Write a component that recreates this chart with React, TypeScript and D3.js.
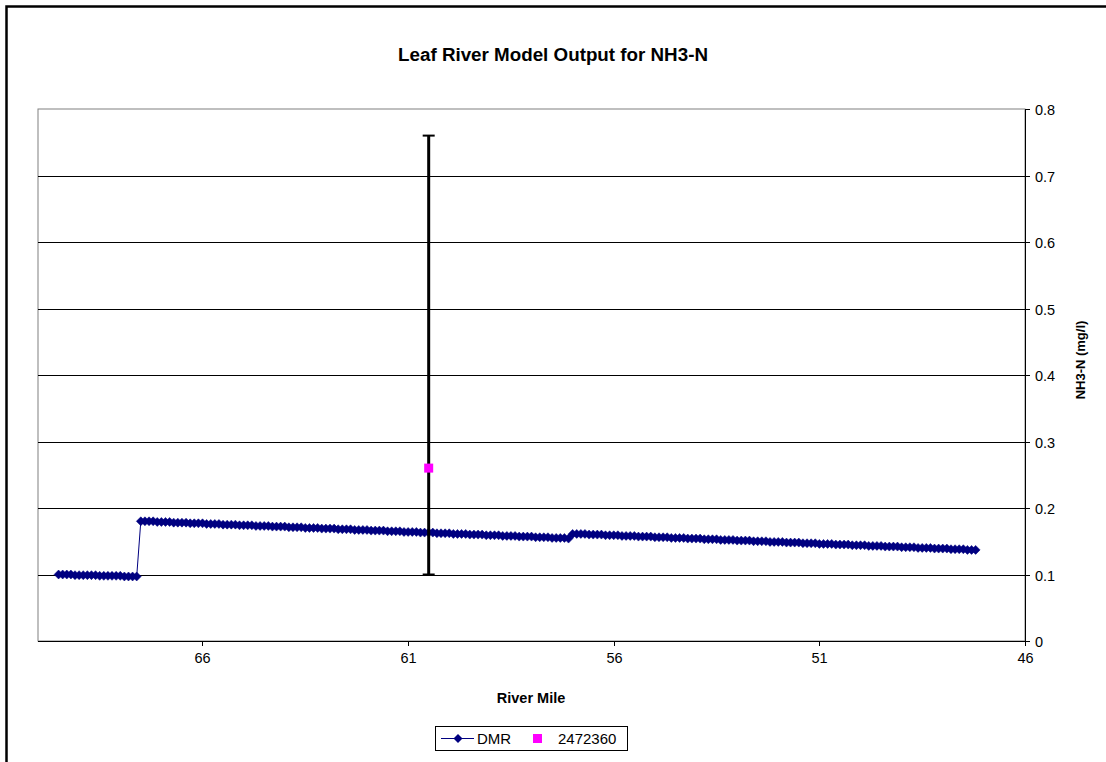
import React from 'react';
import { scaleLinear, line } from 'd3';

// DMR model output along the river (river mile -> NH3-N mg/l)
const riverMiles = [
	69.5, 69.4, 69.3, 69.2, 69.1, 69.0, 68.9, 68.8, 68.7, 68.6,
	68.5, 68.4, 68.3, 68.2, 68.1, 68.0, 67.9, 67.8, 67.7, 67.6,
	67.5, 67.4, 67.3, 67.2, 67.1, 67.0, 66.9, 66.8, 66.7, 66.6,
	66.5, 66.4, 66.3, 66.2, 66.1, 66.0, 65.9, 65.8, 65.7, 65.6,
	65.5, 65.4, 65.3, 65.2, 65.1, 65.0, 64.9, 64.8, 64.7, 64.6,
	64.5, 64.4, 64.3, 64.2, 64.1, 64.0, 63.9, 63.8, 63.7, 63.6,
	63.5, 63.4, 63.3, 63.2, 63.1, 63.0, 62.9, 62.8, 62.7, 62.6,
	62.5, 62.4, 62.3, 62.2, 62.1, 62.0, 61.9, 61.8, 61.7, 61.6,
	61.5, 61.4, 61.3, 61.2, 61.1, 61.0, 60.9, 60.8, 60.7, 60.6,
	60.5, 60.4, 60.3, 60.2, 60.1, 60.0, 59.9, 59.8, 59.7, 59.6,
	59.5, 59.4, 59.3, 59.2, 59.1, 59.0, 58.9, 58.8, 58.7, 58.6,
	58.5, 58.4, 58.3, 58.2, 58.1, 58.0, 57.9, 57.8, 57.7, 57.6,
	57.5, 57.4, 57.3, 57.2, 57.1, 57.0, 56.9, 56.8, 56.7, 56.6,
	56.5, 56.4, 56.3, 56.2, 56.1, 56.0, 55.9, 55.8, 55.7, 55.6,
	55.5, 55.4, 55.3, 55.2, 55.1, 55.0, 54.9, 54.8, 54.7, 54.6,
	54.5, 54.4, 54.3, 54.2, 54.1, 54.0, 53.9, 53.8, 53.7, 53.6,
	53.5, 53.4, 53.3, 53.2, 53.1, 53.0, 52.9, 52.8, 52.7, 52.6,
	52.5, 52.4, 52.3, 52.2, 52.1, 52.0, 51.9, 51.8, 51.7, 51.6,
	51.5, 51.4, 51.3, 51.2, 51.1, 51.0, 50.9, 50.8, 50.7, 50.6,
	50.5, 50.4, 50.3, 50.2, 50.1, 50.0, 49.9, 49.8, 49.7, 49.6,
	49.5, 49.4, 49.3, 49.2, 49.1, 49.0, 48.9, 48.8, 48.7, 48.6,
	48.5, 48.4, 48.3, 48.2, 48.1, 48.0, 47.9, 47.8, 47.7, 47.6,
	47.5, 47.4, 47.3, 47.2,
];

const dmrValues = [
	0.100, 0.100, 0.100, 0.100, 0.099, 0.099, 0.099, 0.099, 0.099, 0.099,
	0.098, 0.098, 0.098, 0.098, 0.098, 0.098, 0.097, 0.097, 0.097, 0.097,
	0.180, 0.180, 0.180, 0.180, 0.179, 0.179, 0.179, 0.179, 0.178, 0.178,
	0.178, 0.178, 0.177, 0.177, 0.177, 0.177, 0.176, 0.176, 0.176, 0.176,
	0.175, 0.175, 0.175, 0.175, 0.174, 0.174, 0.174, 0.174, 0.173, 0.173,
	0.173, 0.173, 0.172, 0.172, 0.172, 0.172, 0.171, 0.171, 0.171, 0.171,
	0.170, 0.170, 0.170, 0.170, 0.169, 0.169, 0.169, 0.169, 0.168, 0.168,
	0.168, 0.168, 0.167, 0.167, 0.167, 0.167, 0.166, 0.166, 0.166, 0.166,
	0.165, 0.165, 0.165, 0.165, 0.164, 0.164, 0.164, 0.164, 0.163, 0.163,
	0.163, 0.163, 0.162, 0.162, 0.162, 0.162, 0.161, 0.161, 0.161, 0.161,
	0.160, 0.160, 0.160, 0.160, 0.159, 0.159, 0.159, 0.159, 0.158, 0.158,
	0.158, 0.158, 0.157, 0.157, 0.157, 0.157, 0.156, 0.156, 0.156, 0.156,
	0.155, 0.155, 0.155, 0.155, 0.154, 0.161, 0.161, 0.161, 0.161, 0.160,
	0.160, 0.160, 0.160, 0.159, 0.159, 0.159, 0.159, 0.158, 0.158, 0.158,
	0.158, 0.157, 0.157, 0.157, 0.157, 0.156, 0.156, 0.156, 0.156, 0.155,
	0.155, 0.155, 0.155, 0.154, 0.154, 0.154, 0.154, 0.153, 0.153, 0.153,
	0.153, 0.152, 0.152, 0.152, 0.152, 0.151, 0.151, 0.151, 0.151, 0.150,
	0.150, 0.150, 0.150, 0.149, 0.149, 0.149, 0.149, 0.148, 0.148, 0.148,
	0.148, 0.147, 0.147, 0.147, 0.147, 0.146, 0.146, 0.146, 0.146, 0.145,
	0.145, 0.145, 0.145, 0.144, 0.144, 0.144, 0.144, 0.143, 0.143, 0.143,
	0.143, 0.142, 0.142, 0.142, 0.142, 0.141, 0.141, 0.141, 0.141, 0.140,
	0.140, 0.140, 0.140, 0.139, 0.139, 0.139, 0.139, 0.138, 0.138, 0.138,
	0.138, 0.137, 0.137, 0.137,
];

// station 2472360 observation with its min/max range
const stationMiles = [60.5];
const stationValues = [0.26];
const stationMin = [0.1];
const stationMax = [0.76];

const xTicks = [66, 61, 56, 51, 46];
const yTicks = [0, 0.1, 0.2, 0.3, 0.4, 0.5, 0.6, 0.7, 0.8];
const yTickLabels = ['0', '0.1', '0.2', '0.3', '0.4', '0.5', '0.6', '0.7', '0.8'];

const W = 1106;
const H = 762;
const PLOT = { left: 38, right: 1025, top: 109, bottom: 641 };
const FONT = '"Liberation Sans", Arial, sans-serif';
const NAVY = '#000080';
const MAGENTA = '#FF00FF';

const diamond = 'M0,-4.5L4.5,0L0,4.5L-4.5,0Z';

export default function App() {
	const x = scaleLinear().domain([70, 46]).range([PLOT.left, PLOT.right]);
	const y = scaleLinear().domain([0, 0.8]).range([PLOT.bottom, PLOT.top]);

	const pts = riverMiles.map((m, i) => [m, dmrValues[i]] as [number, number]);
	const dmrPath = line<[number, number]>()
		.x((d) => x(d[0]))
		.y((d) => y(d[1]))(pts);

	return (
		<svg
			width={W}
			height={H}
			style={{ position: 'absolute', left: 0, top: 0, background: '#fff' }}
			fontFamily={FONT}
		>
			<rect x={0} y={0} width={W} height={H} fill="#fff" />
			{/* outer chart frame */}
			<path d={`M6.5,${H}V6.5H${W}`} fill="none" stroke="#000" strokeWidth={2.5} />

			<text x={553} y={61} textAnchor="middle" fontSize={18.8} fontWeight="bold">
				Leaf River Model Output for NH3-N
			</text>

			{/* plot area frame */}
			<rect
				x={PLOT.left}
				y={PLOT.top}
				width={PLOT.right - PLOT.left}
				height={PLOT.bottom - PLOT.top}
				fill="#fff"
				stroke="#808080"
				strokeWidth={1}
			/>

			{/* gridlines */}
			{yTicks.slice(1, -1).map((t) => (
				<line
					key={t}
					x1={PLOT.left}
					x2={PLOT.right}
					y1={Math.round(y(t)) + 0.5}
					y2={Math.round(y(t)) + 0.5}
					stroke="#000"
					strokeWidth={1}
				/>
			))}

			{/* right value axis */}
			<line x1={PLOT.right + 0.5} x2={PLOT.right + 0.5} y1={PLOT.top} y2={PLOT.bottom} stroke="#000" />
			{yTicks.map((t, i) => (
				<g key={t} transform={`translate(0,${Math.round(y(t)) + 0.5})`}>
					<line x1={PLOT.right} x2={PLOT.right + 5} stroke="#000" />
					<text x={1035} y={5} fontSize={14.5}>
						{yTickLabels[i]}
					</text>
				</g>
			))}

			{/* bottom category axis */}
			<line x1={PLOT.left} x2={PLOT.right} y1={PLOT.bottom + 0.5} y2={PLOT.bottom + 0.5} stroke="#000" />
			{xTicks.map((t) => (
				<g key={t} transform={`translate(${Math.round(x(t)) + 0.5},0)`}>
					<line y1={PLOT.bottom} y2={PLOT.bottom + 5} stroke="#000" />
					<text y={663} textAnchor="middle" fontSize={14.5}>
						{t}
					</text>
				</g>
			))}

			<text x={531} y={703} textAnchor="middle" fontSize={14.5} fontWeight="bold">
				River Mile
			</text>
			<text
				transform="translate(1085,360) rotate(-90)"
				textAnchor="middle"
				fontSize={13}
				fontWeight="bold"
			>
				NH3-N (mg/l)
			</text>

			{/* DMR series */}
			<path d={dmrPath || ''} fill="none" stroke={NAVY} strokeWidth={1} />
			{pts.map((d, i) => (
				<path
					key={i}
					d={diamond}
					transform={`translate(${x(d[0])},${y(d[1])})`}
					fill={NAVY}
					stroke={NAVY}
					strokeWidth={0.5}
				/>
			))}

			{/* station range + observation */}
			{stationMiles.map((m, i) => {
				const cx = x(m);
				return (
					<g key={m}>
						<line x1={cx} x2={cx} y1={y(stationMin[i])} y2={y(stationMax[i])} stroke="#000" strokeWidth={3} />
						<line x1={cx - 6} x2={cx + 6} y1={y(stationMax[i])} y2={y(stationMax[i])} stroke="#000" strokeWidth={2} />
						<line x1={cx - 6} x2={cx + 6} y1={y(stationMin[i])} y2={y(stationMin[i])} stroke="#000" strokeWidth={2} />
						<rect x={cx - 4.5} y={y(stationValues[i]) - 4.5} width={9} height={9} fill={MAGENTA} />
					</g>
				);
			})}

			{/* legend */}
			<rect x={435.5} y={726.5} width={192} height={24} fill="#fff" stroke="#000" strokeWidth={1} />
			<line x1={441} x2={474} y1={738.5} y2={738.5} stroke={NAVY} strokeWidth={1} />
			<path d={diamond} transform="translate(458,738.5)" fill={NAVY} />
			<text x={477} y={744} fontSize={15}>
				DMR
			</text>
			<rect x={533} y={734} width={9} height={9} fill={MAGENTA} />
			<text x={558} y={744} fontSize={15}>
				2472360
			</text>
		</svg>
	);
}
